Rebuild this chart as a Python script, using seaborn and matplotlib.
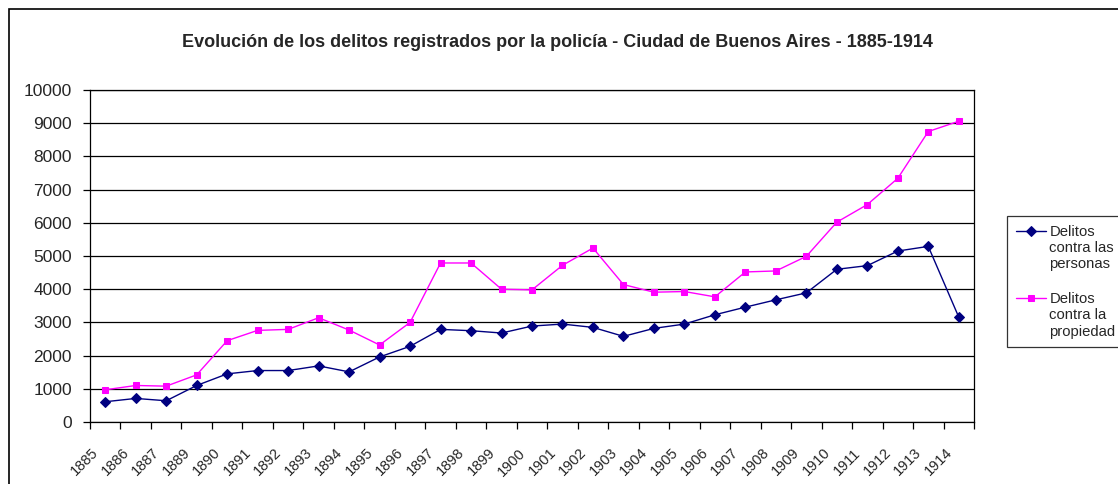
import numpy as np
import pandas as pd
import matplotlib
matplotlib.use("Agg")
import matplotlib.pyplot as plt
import matplotlib.patches as patches
from matplotlib.lines import Line2D
from matplotlib.legend_handler import HandlerLine2D
import seaborn as sns

# data (1888 is missing in the source)
years = ["1885", "1886", "1887", "1889", "1890", "1891", "1892", "1893", "1894",
         "1895", "1896", "1897", "1898", "1899", "1900", "1901", "1902", "1903",
         "1904", "1905", "1906", "1907", "1908", "1909", "1910", "1911", "1912",
         "1913", "1914"]
personas = [610, 710, 640, 1100, 1450, 1550, 1550, 1690, 1510, 1960, 2280, 2790,
            2750, 2680, 2890, 2950, 2850, 2580, 2820, 2950, 3230, 3460, 3680,
            3890, 4600, 4710, 5150, 5290, 3160]
propiedad = [970, 1100, 1080, 1420, 2450, 2760, 2790, 3140, 2770, 2320, 3000, 4790,
             4790, 4000, 3980, 4720, 5240, 4140, 3910, 3930, 3770, 4520, 4550,
             4990, 6020, 6550, 7340, 8750, 9060]
label_personas = "Delitos\ncontra las\npersonas"
label_propiedad = "Delitos\ncontra la\npropiedad"


class TopLineHandler(HandlerLine2D):
    """Put the legend sample next to the first line of a multi-line label."""
    def create_artists(self, legend, orig_handle, xdescent, ydescent, width,
                       height, fontsize, trans):
        arts = super().create_artists(legend, orig_handle, xdescent, ydescent,
                                      width, height, fontsize, trans)
        for a in arts:
            a.set_ydata(np.asarray(a.get_ydata()) + 1.2 * fontsize)
        return arts


sns.set_style("white")
plt.rcParams["font.family"] = ["Liberation Sans", "DejaVu Sans"]

df = pd.DataFrame({
    "pos": np.arange(len(years)) + 0.5,
    "personas": personas,
    "propiedad": propiedad,
})

fig = plt.figure(figsize=(11.18, 4.84), dpi=100)
ax = fig.add_axes([0.0805, 0.1281, 0.8712 - 0.0805, 0.8140 - 0.1281])

sns.lineplot(data=df, x="pos", y="personas", ax=ax, color="#000080", marker="D",
             markersize=5, markeredgecolor="#000080", linewidth=1, label=label_personas)
sns.lineplot(data=df, x="pos", y="propiedad", ax=ax, color="#FF00FF", marker="s",
             markersize=5, markeredgecolor="#FF00FF", linewidth=1, label=label_propiedad)

ax.set_xlim(0, len(years))
ax.set_ylim(0, 10000)
ax.set_yticks(np.arange(0, 10001, 1000))
ax.set_yticklabels([str(v) for v in range(0, 10001, 1000)], fontsize=12.5)
ax.yaxis.grid(True, color="black", linewidth=0.9)
ax.set_axisbelow(True)

ax.set_xticks(np.arange(0, len(years) + 1))
ax.set_xticklabels([])
ax.set_xticks(np.arange(len(years)) + 0.05, minor=True)
ax.set_xticklabels(years, minor=True, rotation=45, ha="right",
                   rotation_mode="anchor", fontsize=10.5)
ax.tick_params(axis="x", which="major", direction="out", length=5, width=0.9,
               bottom=True, color="black")
ax.tick_params(axis="x", which="minor", length=0, pad=17)
ax.tick_params(axis="y", direction="out", length=5, width=0.9, left=True,
               color="black", pad=8)
ax.set_xlabel("")
ax.set_ylabel("")
for s in ax.spines.values():
    s.set_color("black")
    s.set_linewidth(0.9)

leg = ax.legend(loc="upper left", bbox_to_anchor=(0.9007, 0.5537),
                bbox_transform=fig.transFigure, fontsize=10.7, frameon=True,
                fancybox=False, edgecolor="black", handlelength=2.0,
                handletextpad=0.25, labelspacing=1.4, borderpad=0.6,
                borderaxespad=0, handler_map={Line2D: TopLineHandler()})
leg.get_frame().set_linewidth(0.9)

fig.text(0.499, 0.913, "Evolución de los delitos registrados por la policía - "
         "Ciudad de Buenos Aires - 1885-1914", ha="center", va="center",
         fontsize=13, fontweight="bold")

# outer chart border (cut off at right and bottom in the reference)
fig.patches.append(patches.Rectangle((9 / 1118, -0.1), 1.2, 1 - 9 / 484 + 0.1,
                                     transform=fig.transFigure, fill=False,
                                     edgecolor="black", linewidth=1.2))

fig.savefig("out.png", dpi=100)
